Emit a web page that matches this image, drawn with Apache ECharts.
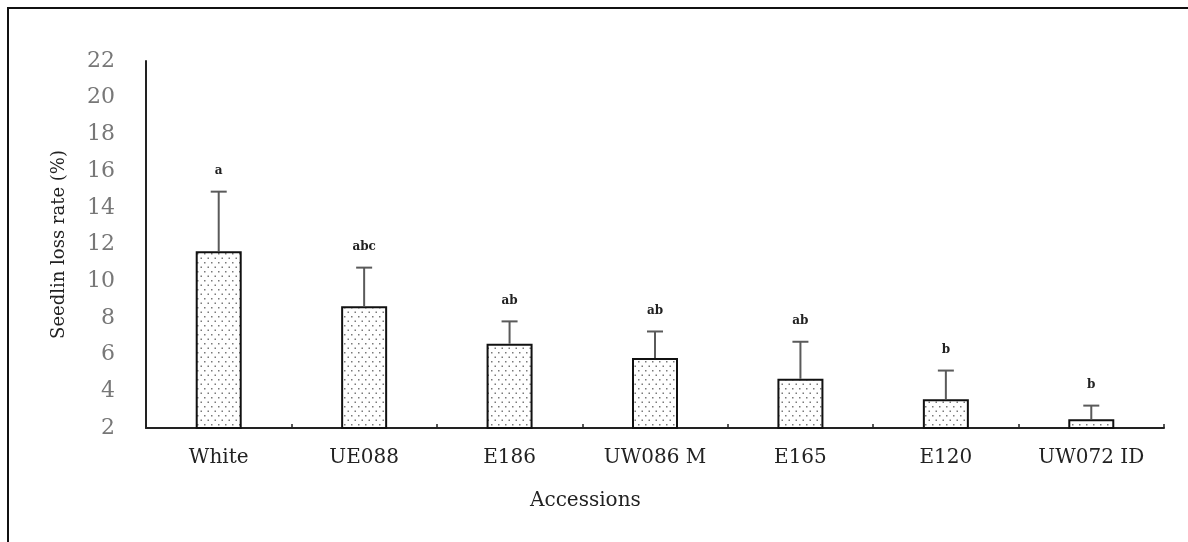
<!DOCTYPE html>
<html>
<head>
<meta charset="utf-8">
<script src="https://cdn.jsdelivr.net/npm/echarts@6/dist/echarts.min.js"></script>
<style>
  html, body { margin: 0; padding: 0; background: #fff; }
  #chart { width: 1188px; height: 542px; }
</style>
</head>
<body>
<div id="chart"></div>
<script>
// Seedling loss rate per accession, with upper error bars and letter groups
const categories = ['White', 'UE088', 'E186', 'UW086 M', 'E165', 'E120', 'UW072 ID'];
const lossRate   = [11.63, 8.63, 6.59, 5.81, 4.68, 3.57, 2.48];
const errorTop   = [14.88, 10.74, 7.81, 7.26, 6.70, 5.13, 3.22];
const groups     = ['a', 'abc', 'ab', 'ab', 'ab', 'b', 'b'];
const yTicks     = [2, 4, 6, 8, 10, 12, 14, 16, 18, 20, 22];

const serif = '"DejaVu Serif", "Liberation Serif", serif';

// dotted fill for the bars
function dotPattern() {
  const c = document.createElement('canvas');
  c.width = 7; c.height = 9;
  const g = c.getContext('2d');
  g.fillStyle = '#fff';
  g.fillRect(0, 0, 7, 9);
  g.fillStyle = '#7a7a7a';
  g.fillRect(1, 1, 1.5, 1.5);
  g.fillRect(4.5, 5.5, 1.5, 1.5);
  return c;
}

const chart = echarts.init(document.getElementById('chart'), null, { renderer: 'canvas' });

chart.setOption({
  animation: false,
  backgroundColor: '#fff',
  grid: { left: 146, right: 24, top: 61, bottom: 114 },
  xAxis: {
    type: 'category',
    data: categories,
    axisLine: { lineStyle: { color: '#222', width: 2 } },
    axisTick: { show: true, inside: true, length: 4, lineStyle: { color: '#222', width: 1.5 } },
    axisLabel: { color: '#222', fontFamily: serif, fontSize: 20, margin: 20 }
  },
  yAxis: {
    type: 'value',
    min: yTicks[0],
    max: yTicks[yTicks.length - 1],
    interval: 2,
    name: 'Seedlin loss rate (%)',
    nameLocation: 'middle',
    nameGap: 78,
    nameTextStyle: { color: '#222', fontFamily: serif, fontSize: 18 },
    axisLine: { show: true, lineStyle: { color: '#222', width: 2 } },
    axisTick: { show: false },
    splitLine: { show: false },
    axisLabel: { color: '#777', fontFamily: serif, fontSize: 22, margin: 31 }
  },
  graphic: [
    {
      type: 'rect',
      shape: { x: 8, y: 8, width: 1300, height: 700 },
      style: { fill: 'none', stroke: '#111', lineWidth: 2 },
      silent: true
    },
    {
      type: 'text',
      left: 530,
      top: 491,
      style: { text: 'Accessions', fill: '#222', font: '20px ' + serif }
    }
  ],
  series: [
    {
      type: 'bar',
      data: lossRate,
      barWidth: 46,
      itemStyle: {
        color: { image: dotPattern(), repeat: 'repeat' },
        borderColor: '#111',
        borderWidth: 2
      },
      z: 2
    },
    {
      type: 'custom',
      data: categories.map((c, i) => [i, lossRate[i], errorTop[i], groups[i]]),
      z: 3,
      renderItem: function (params, api) {
        const x = api.coord([api.value(0), api.value(1)])[0];
        const yLow = api.coord([api.value(0), api.value(1)])[1];
        const yHigh = api.coord([api.value(0), api.value(2)])[1];
        const cap = 8;
        const ls = { stroke: '#5a5a5a', lineWidth: 2 };
        return {
          type: 'group',
          children: [
            { type: 'line', shape: { x1: x, y1: yLow, x2: x, y2: yHigh }, style: ls },
            { type: 'line', shape: { x1: x - cap, y1: yHigh, x2: x + cap, y2: yHigh }, style: ls },
            {
              type: 'text',
              x: x, y: yHigh - 21,
              style: {
                text: groups[params.dataIndex],
                fill: '#222',
                font: 'bold 12px ' + serif,
                align: 'center',
                verticalAlign: 'middle'
              }
            }
          ]
        };
      }
    }
  ]
});
</script>
</body>
</html>
